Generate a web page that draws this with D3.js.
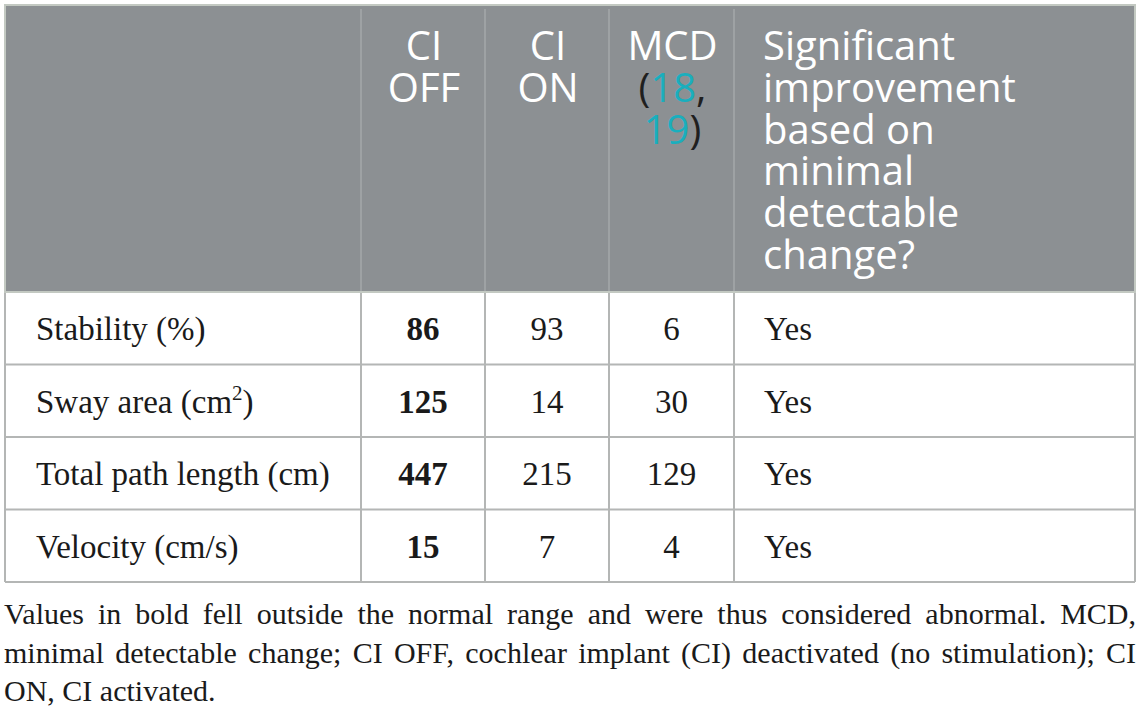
<!DOCTYPE html>
<html>
<head>
<meta charset="utf-8">
<script src="https://cdn.jsdelivr.net/npm/d3@7"></script>
<style>
  body { margin: 0; background: #fff; }
  svg { display: block; }
</style>
</head>
<body>
<div id="chart"></div>
<script>
// table data
const rowLabels = ["Stability (%)", "Sway area (cm2)", "Total path length (cm)", "Velocity (cm/s)"];
const ciOff = [86, 125, 447, 15];
const ciOn = [93, 14, 215, 7];
const mcd = [6, 30, 129, 4];
const significant = ["Yes", "Yes", "Yes", "Yes"];
const headerLines = [
    [],
    ["CI", "OFF"],
    ["CI", "ON"],
    ["MCD", "(18,", "19)"],
    ["Significant", "improvement", "based on", "minimal", "detectable", "change?"]
];
const captionLines = [
    "Values in bold fell outside the normal range and were thus considered abnormal. MCD,",
    "minimal detectable change; CI OFF, cochlear implant (CI) deactivated (no stimulation); CI",
    "ON, CI activated."
];

const width = 1142, height = 717;
const colEdges = [5, 361, 485, 609, 734, 1135];
const tableTop = 5, headBottom = 292, tableBottom = 582;

const svg = d3.select('#chart').append('svg')
    .attr('width', width).attr('height', height);

// rows through a band scale
const y = d3.scaleBand()
    .domain(d3.range(rowLabels.length))
    .range([headBottom, tableBottom]);

const serif = "'Liberation Serif', 'Times New Roman', serif";
const sans = "'Open Sans', 'Lato', sans-serif";

// header background
svg.append('rect')
    .attr('x', colEdges[0]).attr('y', tableTop)
    .attr('width', colEdges[5] - colEdges[0]).attr('height', headBottom - tableTop)
    .attr('fill', '#8c9093');

// header column separators
svg.selectAll('line.hsep').data(colEdges.slice(1, 5)).enter().append('line')
    .attr('class', 'hsep')
    .attr('x1', d => d).attr('x2', d => d)
    .attr('y1', tableTop + 4).attr('y2', headBottom)
    .attr('stroke', '#a4a8aa').attr('stroke-width', 1.5);

// body grid
const grid = svg.append('g').attr('stroke', '#b4b6b5').attr('stroke-width', 2);
grid.selectAll('line.row').data(d3.range(rowLabels.length + 1)).enter().append('line')
    .attr('x1', colEdges[0]).attr('x2', colEdges[5])
    .attr('y1', d => d < rowLabels.length ? y(d) : tableBottom)
    .attr('y2', d => d < rowLabels.length ? y(d) : tableBottom);
grid.selectAll('line.col').data(colEdges).enter().append('line')
    .attr('x1', d => d).attr('x2', d => d)
    .attr('y1', headBottom).attr('y2', tableBottom);

// header outline
svg.append('rect')
    .attr('x', colEdges[0]).attr('y', tableTop)
    .attr('width', colEdges[5] - colEdges[0]).attr('height', headBottom - tableTop)
    .attr('fill', 'none').attr('stroke', '#c3c9c2').attr('stroke-width', 2);

// header text
const lh = 41.8, firstBase = 60;
headerLines.forEach((lines, ci) => {
    const last = ci === 4;
    const tx = last ? colEdges[4] + 29 : (colEdges[ci] + colEdges[ci + 1]) / 2 + 1;
    lines.forEach((ln, li) => {
        const t = svg.append('text')
            .attr('x', tx).attr('y', firstBase + li * lh)
            .attr('text-anchor', last ? 'start' : 'middle')
            .attr('font-family', sans).attr('font-size', 40)
            .attr('fill', '#fff');
        // the reference numbers are links
        const m = ln.match(/^(\(?)(\d+)(.*)$/);
        if (ci === 3 && m) {
            if (m[1]) t.append('tspan').attr('fill', '#1f1f1f').text(m[1]);
            t.append('tspan').attr('fill', '#1aaebd').text(m[2]);
            t.append('tspan').attr('fill', '#1f1f1f').text(m[3]);
        } else {
            t.text(ln);
        }
    });
});

// body text
const body = svg.append('g').attr('font-family', serif).attr('font-size', 33).attr('fill', '#1a1a1a');
const base = d => y(d) + y.bandwidth() / 2 + 12;

body.selectAll('text.lab').data(rowLabels).enter().append('text')
    .attr('x', 36).attr('y', (d, i) => base(i))
    .each(function (d) {
        const t = d3.select(this);
        const m = d.match(/^(.*cm)2(\))$/);
        if (m) {
            t.append('tspan').text(m[1]);
            t.append('tspan').attr('font-size', 21).attr('dy', -13).text('2');
            t.append('tspan').attr('dy', 13).text(m[2]);
        } else {
            t.text(d);
        }
    });

[ciOff, ciOn, mcd].forEach((vals, k) => {
    const cx = (colEdges[k + 1] + colEdges[k + 2]) / 2;
    body.selectAll('text.v' + k).data(vals).enter().append('text')
        .attr('x', cx).attr('y', (d, i) => base(i))
        .attr('text-anchor', 'middle')
        .attr('font-weight', k === 0 ? 'bold' : 'normal')
        .text(d => d);
});

body.selectAll('text.sig').data(significant).enter().append('text')
    .attr('x', colEdges[4] + 30).attr('y', (d, i) => base(i))
    .text(d => d);

// caption, justified by widening the word gaps
const capWidth = 1132;
const cap = svg.append('g').attr('font-family', serif).attr('font-size', 30).attr('fill', '#1a1a1a');
captionLines.forEach((ln, i) => {
    const t = cap.append('text')
        .attr('x', 4).attr('y', 624 + i * 38.5)
        .text(ln);
    if (i < captionLines.length - 1) {
        const gaps = ln.split(' ').length - 1;
        const extra = (capWidth - t.node().getComputedTextLength()) / gaps;
        t.style('word-spacing', extra + 'px');
    }
});
</script>
</body>
</html>
